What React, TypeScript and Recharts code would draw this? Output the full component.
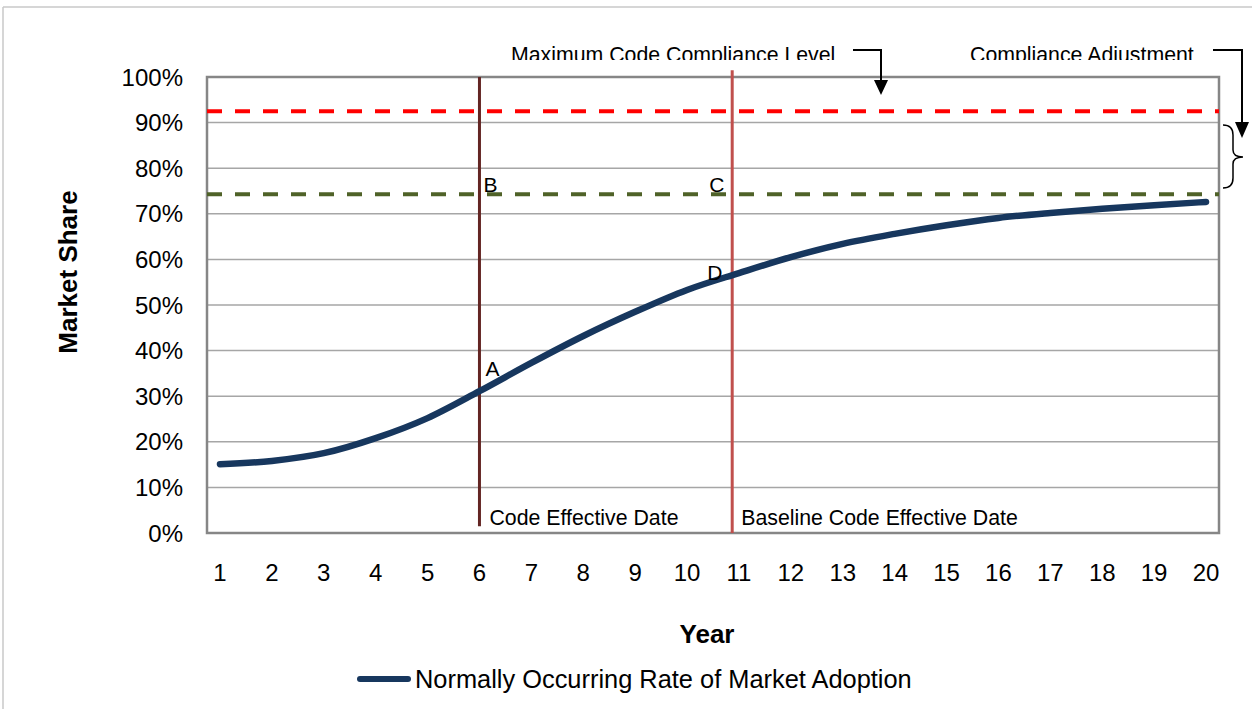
import React from 'react';
import { LineChart, Line, XAxis, YAxis, CartesianGrid, ReferenceLine, ReferenceArea, ReferenceDot, Label } from 'recharts';

const years = [1, 2, 3, 4, 5, 6, 7, 8, 9, 10, 11, 12, 13, 14, 15, 16, 17, 18, 19, 20];
const marketShare = [15.1, 15.8, 17.5, 20.8, 25.2, 31.1, 37.3, 43.2, 48.5, 53.3, 57.0, 60.5, 63.4, 65.6, 67.5, 69.1, 70.2, 71.1, 71.9, 72.6];
const yTicks = [0, 10, 20, 30, 40, 50, 60, 70, 80, 90, 100];

const maxComplianceLevel = 92.5;
const baselineLevel = 74.3;
const codeEffectiveYear = 6;
const baselineEffectiveYear = 10.87;

const seriesName = 'Normally Occurring Rate of Market Adoption';

const data = years.map((y, i) => ({ year: y, share: marketShare[i] }));

const FONT = '"Liberation Sans", Arial, sans-serif';

const PointLetter = ({ cx, cy, text, dx, dy }: any) => (
  <text x={cx + dx} y={cy + dy} fontFamily={FONT} fontSize={21} fill="#000">{text}</text>
);

const App: React.FC = () => {
  return (
    <div style={{ position: 'absolute', left: 0, top: 0, width: 1252, height: 709, background: '#fff' }}>
      <LineChart width={1252} height={709} data={data} margin={{ top: 77, right: 33, bottom: 116, left: 117 }}>
        <CartesianGrid vertical={false} stroke="#a6a6a6" strokeWidth={1.5} />
        <XAxis
          type="number"
          dataKey="year"
          domain={[0.75, 20.25]}
          ticks={years}
          allowDataOverflow
          axisLine={false}
          tickLine={false}
          tickSize={0}
          tickMargin={31}
          height={60}
          tick={{ fill: '#000', fontSize: 24, fontFamily: FONT }}
        >
          <Label
            content={({ viewBox }: any) => (
              <text x={viewBox.x + 500} y={viewBox.y + 110} textAnchor="middle" fontFamily={FONT} fontSize={26} fontWeight="bold" fill="#000">Year</text>
            )}
          />
        </XAxis>
        <YAxis
          domain={[0, 100]}
          ticks={yTicks}
          tickFormatter={(v: number) => `${v}%`}
          axisLine={false}
          tickLine={false}
          tickSize={0}
          tickMargin={24}
          width={90}
          tick={{ fill: '#000', fontSize: 24, fontFamily: FONT }}
        >
          <Label
            content={({ viewBox }: any) => {
              const x = viewBox.x - 49;
              const y = viewBox.y + 195;
              return (
                <text x={x} y={y} transform={`rotate(-90 ${x} ${y})`} textAnchor="middle" dominantBaseline="central" fontFamily={FONT} fontSize={26} fontWeight="bold" fill="#000">Market Share</text>
              );
            }}
          />
        </YAxis>
        <ReferenceArea x1={0.75} x2={20.25} y1={0} y2={100} fill="none" stroke="#868686" strokeWidth={2.5} />
        <ReferenceLine y={maxComplianceLevel} stroke="#ff0000" strokeWidth={4} strokeDasharray="15 13" />
        <ReferenceLine y={baselineLevel} stroke="#4f6228" strokeWidth={4} strokeDasharray="15 13" />
        <ReferenceLine
          segment={[{ x: codeEffectiveYear, y: 100 }, { x: codeEffectiveYear, y: 1.5 }]}
          stroke="#632523"
          strokeWidth={3}
        />
        <ReferenceLine
          segment={[{ x: baselineEffectiveYear, y: 101.5 }, { x: baselineEffectiveYear, y: 0 }]}
          stroke="#c0504d"
          strokeWidth={3}
          ifOverflow="visible"
        />
        <Line
          type="monotone"
          dataKey="share"
          name={seriesName}
          stroke="#17375e"
          strokeWidth={6.5}
          strokeLinecap="round"
          dot={false}
          activeDot={false}
          isAnimationActive={false}
        />
        <ReferenceDot x={codeEffectiveYear} y={31.1} r={0} shape={(p: any) => <PointLetter {...p} text="A" dx={6} dy={-15} />} />
        <ReferenceDot x={codeEffectiveYear} y={baselineLevel} r={0} shape={(p: any) => <PointLetter {...p} text="B" dx={4} dy={-2} />} />
        <ReferenceDot x={baselineEffectiveYear} y={baselineLevel} r={0} shape={(p: any) => <PointLetter {...p} text="C" dx={-23} dy={-2} />} />
        <ReferenceDot x={baselineEffectiveYear} y={57} r={0} shape={(p: any) => <PointLetter {...p} text="D" dx={-25} dy={7} />} />
        <ReferenceDot
          x={codeEffectiveYear}
          y={0}
          r={0}
          shape={(p: any) => (
            <text x={p.cx + 10} y={p.cy - 8} fontFamily={FONT} fontSize={21.3} fill="#000">Code Effective Date</text>
          )}
        />
        <ReferenceDot
          x={baselineEffectiveYear}
          y={0}
          r={0}
          shape={(p: any) => (
            <text x={p.cx + 9} y={p.cy - 8} fontFamily={FONT} fontSize={21.3} fill="#000">Baseline Code Effective Date</text>
          )}
        />
      </LineChart>

      {/* annotations outside the plot */}
      <svg width={1252} height={709} style={{ position: 'absolute', left: 0, top: 0, pointerEvents: 'none' }}>
        <defs>
          <clipPath id="topText">
            <rect x={0} y={0} width={1252} height={60} />
          </clipPath>
        </defs>
        <line x1={3} y1={7} x2={1252} y2={7} stroke="#c8c8c8" strokeWidth={1.5} />
        <line x1={3} y1={7} x2={3} y2={709} stroke="#c8c8c8" strokeWidth={1.5} />
        <g clipPath="url(#topText)" fontFamily={FONT} fontSize={21.3} fill="#000">
          <text x={511} y={62}>Maximum Code Compliance Level</text>
          <text x={970} y={62}>Compliance Adjustment</text>
        </g>
        <polyline points="853,50 881,50 881,84" fill="none" stroke="#000" strokeWidth={2} />
        <polygon points="874,80 888,80 881,95" fill="#000" />
        <polyline points="1213,50 1242,50 1242,126" fill="none" stroke="#000" strokeWidth={2} />
        <polygon points="1235,122 1249,122 1242,138" fill="#000" />
        <path
          d="M1223,125 Q1233,125 1233,135 L1233,150 Q1233,157 1243,157 Q1233,157 1233,164 L1233,178 Q1233,188 1223,188"
          fill="none"
          stroke="#000"
          strokeWidth={1.5}
        />
        <line x1={360} y1={679} x2={408} y2={679} stroke="#17375e" strokeWidth={6} strokeLinecap="round" />
        <text x={415} y={688} fontFamily={FONT} fontSize={25.4} fill="#000">{seriesName}</text>
      </svg>
    </div>
  );
};

export default App;
